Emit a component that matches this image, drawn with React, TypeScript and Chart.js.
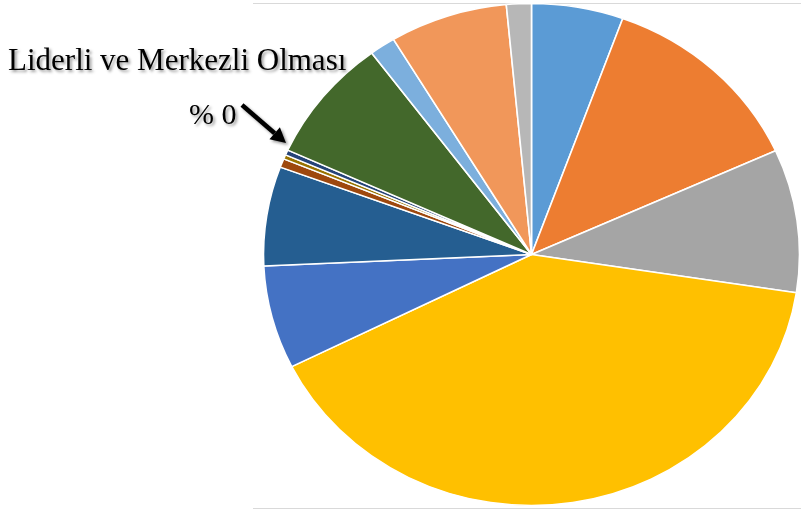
import React, { useEffect, useRef } from "react";
import { Chart, registerables } from "chart.js";

Chart.register(...registerables);

// Slice categories (only one is labelled in the reference)
const categories = [
  "Kategori 1", "Kategori 2", "Kategori 3", "Kategori 4", "Kategori 5",
  "Kategori 6", "Kategori 7", "Kategori 8", "Liderli ve Merkezli Olması",
  "Kategori 10", "Kategori 11", "Kategori 12", "Kategori 13", "Kategori 14", "Kategori 15",
];
// Percent shares
const values = [5.53, 12.69, 9.22, 40.19, 6.64, 0, 6.39, 0.56, 0, 0.28, 0.33, 8.0, 1.56, 7.11, 1.5];
const colors = [
  "#5B9BD5", "#ED7D31", "#A5A5A5", "#FFC000", "#4472C4", "#70AD47",
  "#255E91", "#9E480E", "#636363", "#997300", "#264478", "#43682B",
  "#7CAFDD", "#F1975A", "#B7B7B7",
];
const calloutLabel = "Liderli ve Merkezli Olması";
const calloutValue = "% 0";

export default function App() {
  const ref = useRef<HTMLCanvasElement | null>(null);
  useEffect(() => {
    const canvas = ref.current!;
    const sx = 268 / 251;
    const ellipse = {
      id: "ellipse",
      beforeDatasetsDraw(chart: any) {
        const ctx = chart.ctx;
        const a = chart.chartArea;
        const cx = (a.left + a.right) / 2;
        ctx.save();
        ctx.translate(cx, 0);
        ctx.scale(sx, 1);
        ctx.translate(-cx, 0);
      },
      afterDatasetsDraw(chart: any) {
        chart.ctx.restore();
      },
      beforeDraw(chart: any) {
        const ctx = chart.ctx;
        ctx.save();
        ctx.strokeStyle = "#D9D9D9";
        ctx.lineWidth = 1;
        ctx.beginPath();
        ctx.moveTo(253, 3.5);
        ctx.lineTo(801, 3.5);
        ctx.moveTo(253, 508.5);
        ctx.lineTo(801, 508.5);
        ctx.stroke();
        ctx.restore();
      },
      afterDraw(chart: any) {
        const ctx = chart.ctx;
        ctx.save();
        ctx.fillStyle = "#000";
        ctx.shadowColor = "rgba(0,0,0,0.4)";
        ctx.shadowBlur = 3;
        ctx.shadowOffsetX = 2;
        ctx.shadowOffsetY = 2;
        ctx.font = '31px "Liberation Serif"';
        ctx.textBaseline = "alphabetic";
        ctx.fillText(calloutLabel, 8, 70);
        ctx.font = '30px "Liberation Serif"';
        ctx.fillText(calloutValue, 189, 124);
        // arrow
        const x1 = 242, y1 = 105, x2 = 286, y2 = 143;
        const ang = Math.atan2(y2 - y1, x2 - x1);
        const hl = 15, hw = 8;
        const bx = x2 - hl * Math.cos(ang), by = y2 - hl * Math.sin(ang);
        ctx.strokeStyle = "#000";
        ctx.lineWidth = 4.5;
        ctx.beginPath();
        ctx.moveTo(x1, y1);
        ctx.lineTo(bx, by);
        ctx.stroke();
        ctx.beginPath();
        ctx.moveTo(x2, y2);
        ctx.lineTo(bx + hw * Math.sin(ang), by - hw * Math.cos(ang));
        ctx.lineTo(bx - hw * Math.sin(ang), by + hw * Math.cos(ang));
        ctx.closePath();
        ctx.fill();
        ctx.restore();
      },
    };
    const chart = new Chart(canvas, {
      type: "pie",
      data: {
        labels: categories,
        datasets: [
          {
            data: values,
            backgroundColor: colors,
            borderColor: "#FFFFFF",
            borderWidth: 1.5,
            hoverOffset: 0,
            offset: 0,
          },
        ],
      },
      options: {
        responsive: false,
        animation: false,
        radius: 251,
        layout: { padding: { left: 280, right: 18, top: 3.5, bottom: 5.5 } },
        plugins: { legend: { display: false }, tooltip: { enabled: false } },
        events: [],
      },
      plugins: [ellipse],
    });
    return () => chart.destroy();
  }, []);
  return (
    <div style={{ position: "absolute", left: 0, top: 0, width: 801, height: 511, background: "#fff" }}>
      <canvas ref={ref} width={801} height={511} />
    </div>
  );
}
